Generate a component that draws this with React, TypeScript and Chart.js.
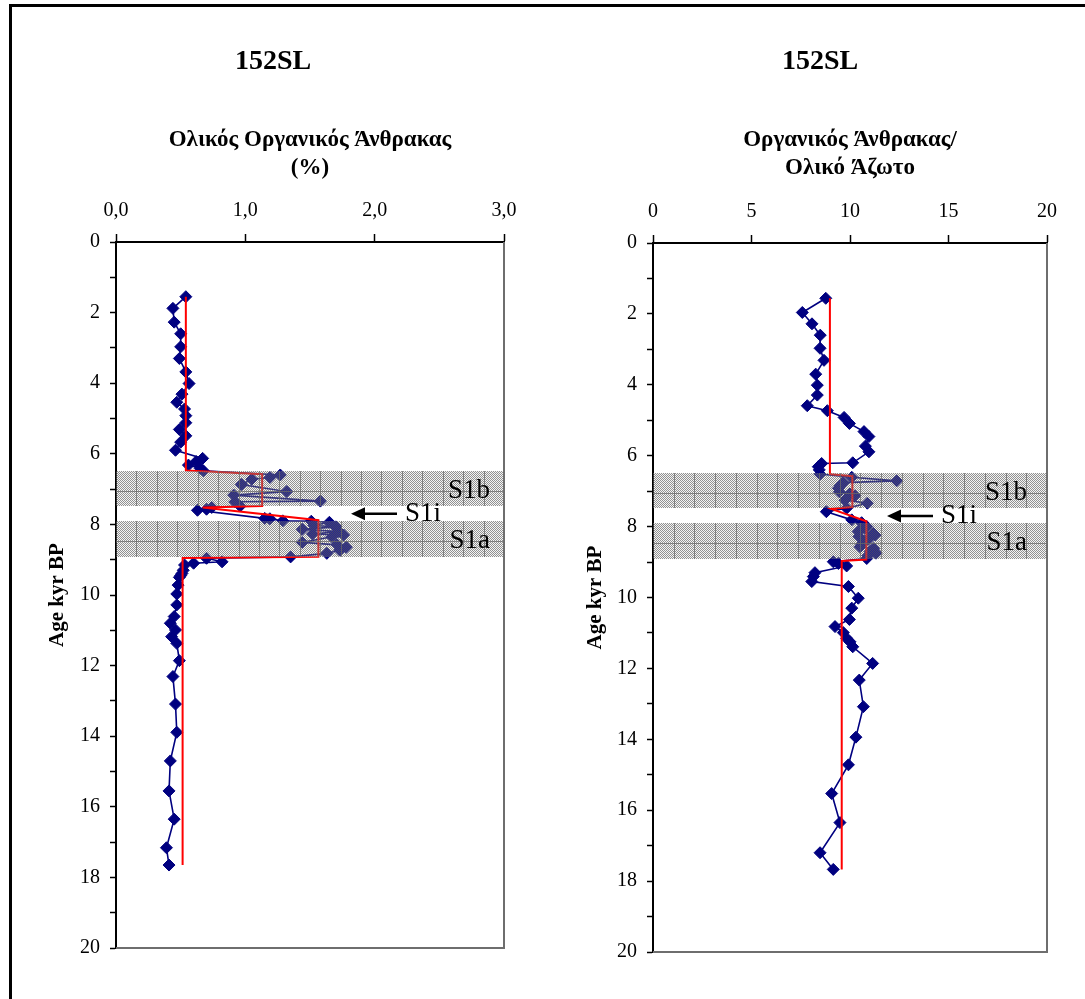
import React, { useEffect, useRef } from 'react';
import { Chart, registerables } from 'chart.js';

Chart.register(...registerables);

const FONT = "'Liberation Serif', 'Times New Roman', serif";

// ---------- Left panel: total organic carbon (%) ----------
const tocAge = [
  1.55, 1.88, 2.27, 2.6, 2.97, 3.3, 3.68, 4.01, 4.31, 4.54, 4.73, 4.92, 5.12, 5.31, 5.49, 5.67, 5.9,
  6.13, 6.22, 6.32, 6.41, 6.48,
  6.6, 6.67, 6.72, 6.87, 7.07, 7.17, 7.34, 7.36, 7.48,
  7.52, 7.57, 7.6,
  7.83, 7.84, 7.9,
  7.91, 7.94, 8.03, 8.07, 8.14, 8.2, 8.27, 8.3, 8.35, 8.51, 8.58, 8.65, 8.73, 8.82, 8.92,
  8.96, 9.06, 9.1, 9.15, 9.3, 9.39, 9.45, 9.5, 9.72, 9.97, 10.28, 10.61, 10.8, 10.99, 11.18, 11.37,
  11.86, 12.31, 13.09, 13.89, 14.7, 15.55, 16.35, 17.16, 17.65,
];
const tocValue = [
  0.54, 0.44, 0.45, 0.5, 0.5, 0.49, 0.54, 0.565, 0.51, 0.47, 0.53, 0.54, 0.54, 0.49, 0.54, 0.5, 0.46,
  0.67, 0.62, 0.56, 0.65, 0.675,
  1.27, 1.19, 1.05, 0.97, 1.32, 0.91, 1.58, 0.92, 0.96,
  0.74, 0.7, 0.63,
  1.15, 1.19, 1.29,
  1.51, 1.65, 1.53, 1.7, 1.44, 1.72, 1.52, 1.76, 1.67, 1.44, 1.71, 1.78, 1.73, 1.63, 1.35,
  0.7, 0.82, 0.6, 0.53, 0.52, 0.51, 0.5, 0.49, 0.48, 0.47, 0.47, 0.45, 0.42, 0.46, 0.43, 0.47,
  0.49, 0.44, 0.46, 0.47, 0.42, 0.41, 0.45, 0.39, 0.41,
];
const tocMeanAge = [1.55, 6.47, 6.58, 7.48, 7.52, 7.88, 8.92, 8.95, 17.65];
const tocMeanValue = [0.54, 0.54, 1.13, 1.13, 0.67, 1.565, 1.565, 0.515, 0.515];
const tocTicks = [0, 1, 2, 3];

// ---------- Right panel: organic carbon / total nitrogen ----------
const cnAge = [
  1.56, 1.96, 2.28, 2.6, 2.97, 3.31, 3.7, 4.01, 4.29, 4.59, 4.73, 4.92, 5.09, 5.32, 5.46, 5.73, 5.89,
  6.2, 6.22, 6.31, 6.4, 6.52,
  6.61, 6.71, 6.76, 6.85, 6.92, 7.02, 7.08, 7.13, 7.25, 7.34, 7.48, 7.58,
  7.81, 7.89, 8.0, 8.05, 8.14, 8.19, 8.24, 8.28, 8.36, 8.5, 8.57, 8.62, 8.7, 8.75, 8.82, 8.9,
  8.99, 9.04, 9.11, 9.3, 9.41, 9.55, 9.69, 10.02, 10.3, 10.62, 10.82, 10.99, 11.15, 11.25, 11.39,
  11.86, 12.33, 13.08, 13.94, 14.72, 15.53, 16.35, 17.2, 17.67,
];
const cnValue = [
  8.77, 7.58, 8.07, 8.49, 8.48, 8.68, 8.26, 8.34, 8.34, 7.83, 8.85, 9.7, 9.97, 10.71, 10.96, 10.78, 10.96,
  10.14, 8.56, 8.39, 8.44, 8.48,
  10.09, 12.37, 9.66, 9.5, 9.41, 9.46, 10.0, 10.25, 9.75, 10.88, 9.83, 8.8,
  10.09, 10.59, 10.85, 10.76, 10.42, 11.18, 11.27, 10.45, 10.93, 10.6, 10.51, 11.2, 11.02, 11.32, 10.9, 10.85,
  9.15, 9.41, 9.83, 8.22, 8.14, 8.06, 9.92, 10.42, 10.09, 9.97, 9.24, 9.66, 9.83, 10.0, 10.14,
  11.15, 10.47, 10.68, 10.3, 9.92, 9.07, 9.49, 8.48, 9.15,
];
const cnMeanAge = [1.56, 6.52, 6.58, 7.45, 7.5, 7.85, 8.93, 8.97, 17.67];
const cnMeanValue = [8.98, 8.98, 10.12, 10.12, 9.05, 10.83, 10.83, 9.58, 9.58];
const cnTicks = [0, 5, 10, 15, 20];

// ---------- shared ----------
const ageMin = 0;
const ageMax = 20;
const bandNames = ['S1b', 'S1a'];
const bandFrom = [6.5, 7.9];
const bandTo = [7.47, 8.92];
const gapLabel = 'S1i';
const coreName = '152SL';
const ageTitle = 'Age kyr BP';
const tocTitle = ['Ολικός Οργανικός Άνθρακας', '(%)'];
const cnTitle = ['Οργανικός Άνθρακας/', 'Ολικό Άζωτο'];

function makePattern(ctx: CanvasRenderingContext2D) {
  const c = document.createElement('canvas');
  c.width = 2;
  c.height = 2;
  const p = c.getContext('2d')!;
  p.fillStyle = 'rgba(100,100,100,0.7)';
  p.fillRect(0, 0, 1, 1);
  p.fillRect(1, 1, 1, 1);
  p.fillStyle = 'rgba(200,200,200,0.2)';
  p.fillRect(1, 0, 1, 1);
  p.fillRect(0, 1, 1, 1);
  return ctx.createPattern(c, 'repeat')!;
}

const decorPlugin = {
  id: 'decor',
  afterDatasetsDraw(chart: any, _args: any, o: any) {
    const { ctx, chartArea: a } = chart;
    const y = chart.scales.y;
    ctx.save();
    // sapropel bands (semi-transparent hatched overlay)
    const pat = makePattern(ctx);
    for (let b = 0; b < bandNames.length; b++) {
      const top = Math.round(y.getPixelForValue(bandFrom[b]));
      const bot = Math.round(y.getPixelForValue(bandTo[b]));
      ctx.fillStyle = pat;
      ctx.fillRect(a.left, top, a.right - a.left, bot - top);
      ctx.strokeStyle = 'rgba(105,105,105,0.75)';
      ctx.lineWidth = 1;
      const n = 19;
      for (let i = 1; i < n; i++) {
        const x = Math.round(a.left + ((a.right - a.left) * i) / n) + 0.5;
        ctx.beginPath();
        ctx.moveTo(x, top);
        ctx.lineTo(x, bot);
        ctx.stroke();
      }
      const hy = top + 20.5;
      if (hy < bot) {
        ctx.beginPath();
        ctx.moveTo(a.left, hy);
        ctx.lineTo(a.right, hy);
        ctx.stroke();
      }
      // band label
      ctx.fillStyle = '#000';
      ctx.font = `27px ${FONT}`;
      ctx.textAlign = 'right';
      ctx.textBaseline = 'alphabetic';
      ctx.fillText(bandNames[b], a.right - o.labelRight, (top + bot) / 2 + 9);
    }
    // S1i with arrow
    const gy = (y.getPixelForValue(bandTo[0]) + y.getPixelForValue(bandFrom[1])) / 2;
    ctx.font = `27px ${FONT}`;
    ctx.textAlign = 'left';
    ctx.fillStyle = '#000';
    ctx.fillText(gapLabel, a.right - o.gapLeft, gy + 8);
    const tail = a.right - o.arrowTail;
    const tip = a.right - o.arrowTip;
    ctx.strokeStyle = '#000';
    ctx.lineWidth = 2.5;
    ctx.beginPath();
    ctx.moveTo(tail, gy + 0.5);
    ctx.lineTo(tip + 10, gy + 0.5);
    ctx.stroke();
    ctx.beginPath();
    ctx.moveTo(tip, gy + 0.5);
    ctx.lineTo(tip + 14, gy - 6);
    ctx.lineTo(tip + 14, gy + 7);
    ctx.closePath();
    ctx.fill();
    // plot area right & bottom border
    ctx.strokeStyle = '#6e6e6e';
    ctx.lineWidth = 2;
    ctx.beginPath();
    ctx.moveTo(a.left, a.bottom);
    ctx.lineTo(a.right, a.bottom);
    ctx.lineTo(a.right, a.top);
    ctx.stroke();
    ctx.restore();
  },
  afterDraw(chart: any, _args: any, o: any) {
    const { ctx, chartArea: a } = chart;
    ctx.save();
    ctx.fillStyle = '#000';
    ctx.textAlign = 'center';
    ctx.textBaseline = 'middle';
    ctx.font = `bold 28px ${FONT}`;
    ctx.fillText(coreName, o.titleX, 62);
    ctx.font = `bold 23px ${FONT}`;
    const cx = (a.left + a.right) / 2;
    o.axisTitle.forEach((t: string, i: number) => ctx.fillText(t, cx, 140 + i * 28));
    ctx.translate(o.yTitleX, (a.top + a.bottom) / 2);
    ctx.rotate(-Math.PI / 2);
    ctx.font = `bold 21px ${FONT}`;
    ctx.fillText(ageTitle, 0, 0);
    ctx.restore();
  },
};

type PanelCfg = {
  left: number;
  width: number;
  yWidth: number;
  xHeight: number;
  padRight: number;
  padBottom: number;
  ages: number[];
  values: number[];
  meanAges: number[];
  meanValues: number[];
  ticks: number[];
  fmt: (v: number) => string;
  decor: any;
};

function buildConfig(p: PanelCfg): any {
  const tickFont = { family: FONT, size: 20 };
  return {
    type: 'scatter',
    data: {
      datasets: [
        {
          label: 'mean',
          data: p.meanAges.map((a, i) => ({ x: p.meanValues[i], y: a })),
          showLine: true,
          borderColor: '#FF0000',
          borderWidth: 2,
          pointRadius: 0,
          order: 0,
        },
        {
          label: 'values',
          data: p.ages.map((a, i) => ({ x: p.values[i], y: a })),
          showLine: true,
          borderColor: '#000080',
          borderWidth: 1.6,
          pointStyle: 'rectRot',
          pointRadius: 6,
          pointBackgroundColor: '#000080',
          pointBorderColor: '#000080',
          pointBorderWidth: 1,
          order: 1,
        },
      ],
    },
    options: {
      animation: false,
      responsive: false,
      events: [],
      layout: { padding: { left: 0, top: 0, right: p.padRight, bottom: p.padBottom } },
      plugins: {
        legend: { display: false },
        tooltip: { enabled: false },
        decor: p.decor,
      },
      scales: {
        x: {
          type: 'linear',
          position: 'top',
          min: p.ticks[0],
          max: p.ticks[p.ticks.length - 1],
          afterBuildTicks: (s: any) => {
            s.ticks = p.ticks.map((v) => ({ value: v }));
          },
          ticks: {
            autoSkip: false,
            maxRotation: 0,
            font: tickFont,
            color: '#000',
            padding: 11,
            callback: (v: number) => p.fmt(v),
          },
          grid: { drawOnChartArea: false, drawTicks: true, tickLength: 8, tickColor: '#000', tickWidth: 1.5 },
          border: { display: true, color: '#000', width: 2 },
          afterFit: (s: any) => {
            s.height = p.xHeight;
            s.paddingLeft = 0;
            s.paddingRight = 0;
          },
        },
        y: {
          type: 'linear',
          position: 'left',
          reverse: true,
          min: ageMin,
          max: ageMax,
          ticks: {
            stepSize: 1,
            autoSkip: false,
            font: tickFont,
            color: '#000',
            padding: 10,
            callback: (v: number) => (v % 2 === 0 ? String(v) : ''),
          },
          grid: { drawOnChartArea: false, drawTicks: true, tickLength: 6, tickColor: '#000', tickWidth: 1.5 },
          border: { display: true, color: '#000', width: 2 },
          afterFit: (s: any) => {
            s.width = p.yWidth;
            s.paddingTop = 0;
            s.paddingBottom = 0;
          },
        },
      },
    },
    plugins: [decorPlugin],
  };
}

function Panel({ cfg }: { cfg: PanelCfg }) {
  const ref = useRef<HTMLCanvasElement>(null);
  useEffect(() => {
    const chart = new Chart(ref.current!, buildConfig(cfg));
    return () => chart.destroy();
  }, []);
  return (
    <canvas
      ref={ref}
      width={cfg.width}
      height={999}
      style={{ position: 'absolute', left: cfg.left, top: 0, width: cfg.width, height: 999 }}
    />
  );
}

const leftPanel: PanelCfg = {
  left: 0,
  width: 540,
  yWidth: 116,
  xHeight: 242,
  padRight: 36,
  padBottom: 51,
  ages: tocAge,
  values: tocValue,
  meanAges: tocMeanAge,
  meanValues: tocMeanValue,
  ticks: tocTicks,
  fmt: (v) => v.toFixed(1).replace('.', ','),
  decor: { titleX: 273, axisTitle: tocTitle, yTitleX: 58, labelRight: 14, gapLeft: 99, arrowTail: 107, arrowTip: 153 },
};

const rightPanel: PanelCfg = {
  left: 540,
  width: 545,
  yWidth: 113,
  xHeight: 243,
  padRight: 38,
  padBottom: 47,
  ages: cnAge,
  values: cnValue,
  meanAges: cnMeanAge,
  meanValues: cnMeanValue,
  ticks: cnTicks,
  fmt: (v) => String(v),
  decor: { titleX: 280, axisTitle: cnTitle, yTitleX: 56, labelRight: 20, gapLeft: 106, arrowTail: 114, arrowTip: 160 },
};

export default function App() {
  return (
    <div style={{ position: 'absolute', left: 0, top: 0, width: 1085, height: 999, background: '#fff', overflow: 'hidden' }}>
      <Panel cfg={leftPanel} />
      <Panel cfg={rightPanel} />
      <div
        style={{
          position: 'absolute',
          left: 9,
          top: 4,
          width: 1085,
          height: 1000,
          borderTop: '3px solid #000',
          borderLeft: '3px solid #000',
          boxSizing: 'border-box',
          pointerEvents: 'none',
        }}
      />
    </div>
  );
}
